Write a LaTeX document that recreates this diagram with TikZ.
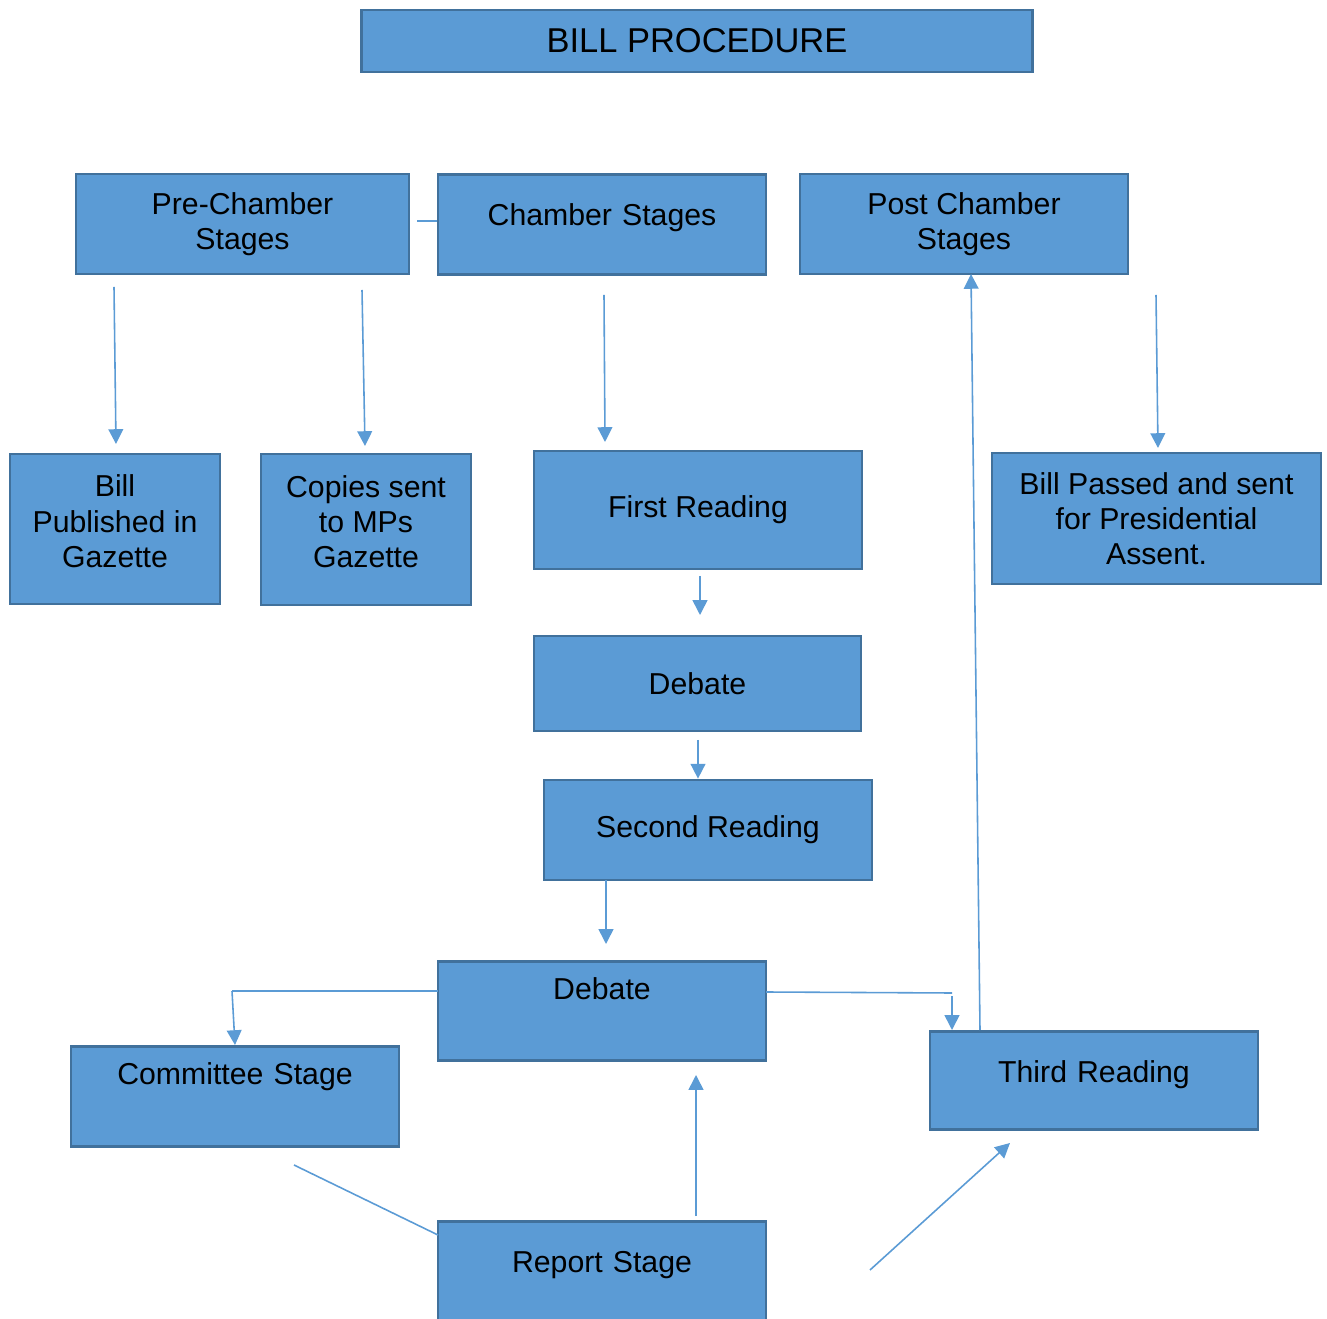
\documentclass[tikz,border=0pt]{standalone}
\usepackage{fontspec}
\setmainfont{Liberation Sans}
\usetikzlibrary{arrows.meta}
\definecolor{boxblue}{HTML}{5B9BD5}
\definecolor{edgeblue}{HTML}{41719C}
\newcommand{\lowfoot}{\rule[-4.5pt]{0pt}{4.5pt}}
\tikzset{
  stage/.style={draw=edgeblue, fill=boxblue, line width=0.75pt, align=center,
    inner sep=0pt, font=\fontsize{8.6}{10}\selectfont},
  topstage/.style={stage, anchor=north, text height=#1},
  link/.style={draw=boxblue, line width=0.45pt},
  flow/.style={link, -{Triangle[width=4.2pt,length=4.2pt]}}
}
\begin{document}
\begin{tikzpicture}[x=0.01cm,y=-0.01cm]
\useasboundingbox (0,0) rectangle (1327,1319);

% header
\node[stage, minimum width=6.7cm, minimum height=0.62cm, font=\fontsize{9.8}{12}\selectfont]
  (title) at (697,41) {BILL PROCEDURE};

% the three groups
\node[stage, minimum width=3.33cm, minimum height=1cm] (pre) at (242.5,224) {Pre-Chamber\\Stages};
\node[topstage=0.51cm, text depth=0.49cm, text width=3.28cm] (chamber) at (602,173) {Chamber Stages};
\node[stage, minimum width=3.28cm, minimum height=1cm] (post) at (964,224) {Post Chamber\\Stages};

% pre-chamber
\node[stage, minimum width=2.1cm, minimum height=1.5cm] (published) at (115,529) {Bill\\Published in\\Gazette\lowfoot};
\node[stage, minimum width=2.1cm, minimum height=1.51cm] (copies) at (366,529.5) {Copies sent\\to MPs\\Gazette\lowfoot};

% chamber
\node[stage, minimum width=3.28cm, minimum height=1.18cm] (first) at (698,510) {First Reading};
\node[stage, minimum width=3.27cm, minimum height=0.95cm] (debateA) at (697.5,683.5) {Debate};
\node[stage, minimum width=3.28cm, minimum height=1cm] (second) at (708,830) {Second Reading};
\node[topstage=0.38cm, text depth=0.61cm, text width=3.28cm] (debateB) at (602,960) {Debate};
\node[topstage=0.38cm, text depth=0.62cm, text width=3.28cm] (committee) at (235,1045) {Committee Stage};
\node[topstage=0.51cm, text depth=0.47cm, text width=3.28cm] (third) at (1094,1030) {Third Reading};
\node[topstage=0.51cm, text depth=0.57cm, text width=3.28cm] (report) at (602,1220) {Report Stage};

% post chamber
\node[stage, minimum width=3.29cm, minimum height=1.31cm] (passed) at (1156.5,518.5) {Bill Passed and sent\\for Presidential\\Assent.};

% free ends
\coordinate (preL) at (417,221);
\coordinate (pubS) at (114,287);  \coordinate (pubE) at (116,444);
\coordinate (copS) at (362,290);  \coordinate (copE) at (365,446);
\coordinate (firS) at (604,295);  \coordinate (firE) at (605,442);
\coordinate (pasS) at (1156,295); \coordinate (pasE) at (1158,448);
\coordinate (debS) at (700,576);  \coordinate (debE) at (700,615);
\coordinate (secS) at (698,740);
\coordinate (dbbS) at (606,880);  \coordinate (dbbE) at (606,944);
\coordinate (lftA) at (438,991);  \coordinate (lftB) at (232,991);
\coordinate (rgtA) at (766,992);  \coordinate (rgtB) at (952,993);
\coordinate (rgtC) at (952,996);
\coordinate (upS) at (980,1030);  \coordinate (upE) at (971,274);
\coordinate (cmtS) at (294,1165); \coordinate (repL) at (438,1235);
\coordinate (repS) at (696,1216); \coordinate (repE) at (696,1075);
\coordinate (thrS) at (870,1270); \coordinate (thrE) at (1010,1143);

\draw[link] (preL) -- (chamber.west |- preL);
\draw[flow] (pubS) -- (pubE);
\draw[flow] (copS) -- (copE);
\draw[flow] (firS) -- (firE);
\draw[flow] (pasS) -- (pasE);
\draw[flow] (debS) -- (debE);
\draw[flow] (secS) -- (second.north -| secS);
\draw[flow] (dbbS) -- (dbbE);
\draw[link] (lftA) -- (lftB);
\draw[flow] (lftB) -- (committee.north);
\draw[link] (rgtA) -- (rgtB);
\draw[flow] (rgtC) -- (third.north -| rgtC);
\draw[flow] (upS) -- (upE);
\draw[link] (cmtS) -- (repL);
\draw[flow] (repS) -- (repE);
\draw[flow] (thrS) -- (thrE);
\end{tikzpicture}
\end{document}
